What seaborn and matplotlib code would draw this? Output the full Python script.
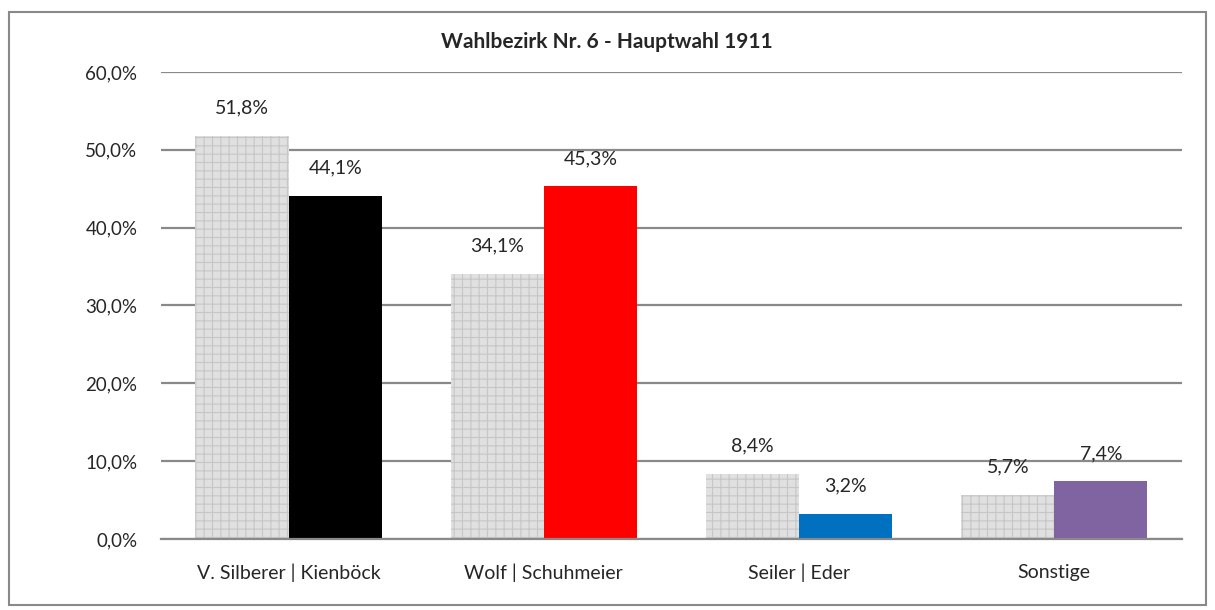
import pandas as pd
import matplotlib.pyplot as plt
import matplotlib.patches as mpatches
import seaborn as sns

# data
kandidaten = ['V. Silberer | Kienböck', 'Wolf | Schuhmeier', 'Seiler | Eder', 'Sonstige']
werte_1907 = [51.8, 34.1, 8.4, 5.7]
werte_1911 = [44.1, 45.3, 3.2, 7.4]
farben_1911 = ['#000000', '#ff0000', '#0070c0', '#8064a2']

df = pd.DataFrame({
    'Kandidat': kandidaten * 2,
    'Anteil': werte_1907 + werte_1911,
    'Wahl': ['1907'] * 4 + ['1911'] * 4,
})

sns.set_style('white')
plt.rcParams['font.family'] = ['Lato', 'DejaVu Sans']
plt.rcParams['hatch.linewidth'] = 0.8

fig = plt.figure(figsize=(12.15, 6.1), dpi=100)
ax = fig.add_axes([0.1325, 0.1164, 0.8403, 0.7656])

sns.barplot(data=df, x='Kandidat', y='Anteil', hue='Wahl', palette=['#e0e0e0', '#000000'],
            width=0.73, gap=0, ax=ax, legend=False, saturation=1)

# grey bars get the grid pattern, second series gets candidate colours
for p in ax.containers[0]:
    p.set_facecolor('#e0e0e0')
    p.set_edgecolor('#c6c6c6')
    p.set_hatch('++')
    p.set_linewidth(0)
for p, c in zip(ax.containers[1], farben_1911):
    p.set_facecolor(c)
    p.set_linewidth(0)

# data labels
for cont in ax.containers:
    for p in cont:
        h = p.get_height()
        ax.annotate(f'{h:.1f}%'.replace('.', ','), (p.get_x() + p.get_width() / 2, h),
                    xytext=(0, 20), textcoords='offset points', ha='center', va='center',
                    fontsize=14)

ax.set_ylim(0, 60)
ax.set_yticks(range(0, 61, 10))
ax.set_yticklabels([f'{v},0%' for v in range(0, 61, 10)], fontsize=13.5)
ax.tick_params(axis='x', labelsize=14, pad=18, length=0)
ax.tick_params(axis='y', pad=17, length=0)
ax.set_xlabel('')
ax.set_ylabel('')
ax.yaxis.grid(True, color='#898989', linewidth=1.6)
ax.set_axisbelow(True)
for s in ['top', 'right', 'left']:
    ax.spines[s].set_visible(False)
ax.spines['bottom'].set_color('#898989')
ax.spines['bottom'].set_linewidth(1.6)

fig.text(0.4996, 0.931, 'Wahlbezirk Nr. 6 - Hauptwahl 1911', ha='center', va='center',
         fontsize=15, fontweight='bold')

# chart frame
fig.patches.append(mpatches.Rectangle((0.0074, 0.008), 0.9852, 0.972, transform=fig.transFigure,
                                      fill=False, edgecolor='#898989', linewidth=1.5))

plt.savefig('out.png', dpi=100)
